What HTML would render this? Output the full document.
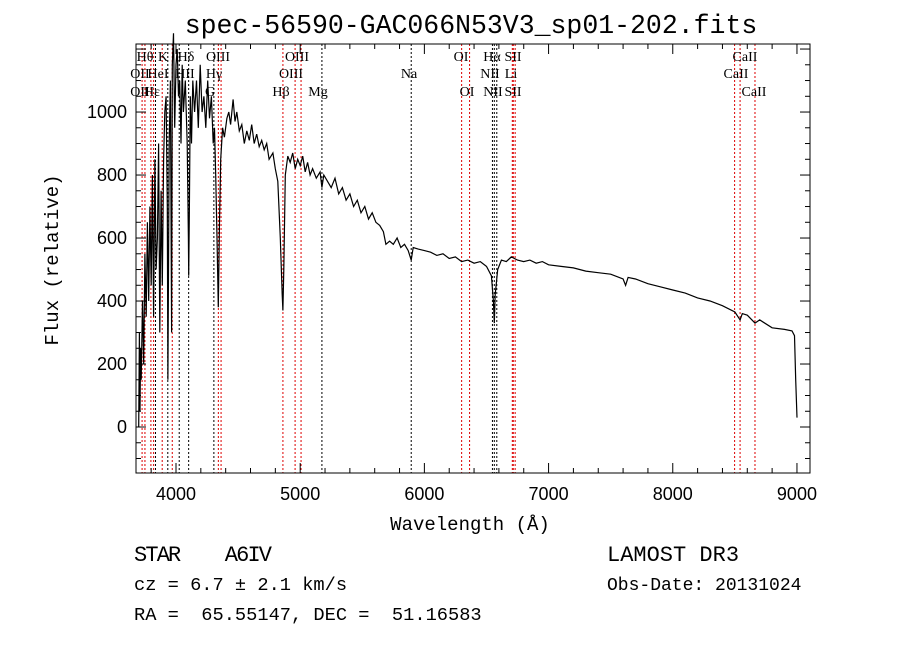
<!DOCTYPE html>
<html><head><meta charset="utf-8"><style>
html,body{margin:0;padding:0;background:#fff;}
svg{display:block;font-family:"Liberation Mono",monospace;}
.lbl{font-family:"Liberation Serif",serif;font-size:14px;fill:#000;}
.info{font-family:"Liberation Mono",monospace;fill:#000;white-space:pre;}
</style></head><body>
<svg id="chart" width="900" height="649" viewBox="0 0 900 649" xml:space="preserve">
<rect width="900" height="649" fill="#fff"/>
<text x="471" y="33" font-size="26.5" text-anchor="middle">spec-56590-GAC066N53V3_sp01-202.fits</text>
<g id="lines"></g>
<g id="labels"></g>
<g id="axes"></g>
<path id="spec" fill="none" stroke="#000" stroke-width="1.2"/>
<rect x="136" y="44" width="674" height="429" fill="none" stroke="#000" stroke-width="1"/>
<text x="470" y="530" font-size="19" text-anchor="middle">Wavelength (Å)</text>
<text transform="translate(58,260) rotate(-90)" font-size="19" text-anchor="middle">Flux (relative)</text>
<text class="info" x="134" y="561" font-size="22" textLength="138">STAR    A6IV</text>
<text class="info" x="134" y="590" font-size="18.7">cz = 6.7 ± 2.1 km/s</text>
<text class="info" x="134" y="620" font-size="18.7">RA =  65.55147, DEC =  51.16583</text>
<text class="info" x="607" y="561" font-size="22">LAMOST DR3</text>
<text class="info" x="607" y="590" font-size="18">Obs-Date: 20131024</text>
</svg>
<script>
const wave=[3700,3705,3710,3715,3720,3730,3740,3750,3760,3770,3780,3790,3800,3810,3820,3830,3840,3850,3860,3870,3880,3890,3900,3910,3920,3930,3935,3945,3955,3965,3970,3980,3990,4000,4010,4020,4030,4040,4050,4060,4075,4090,4100,4102,4108,4115,4125,4135,4150,4165,4180,4195,4210,4225,4240,4255,4270,4285,4300,4310,4320,4330,4341,4350,4360,4375,4390,4410,4425,4440,4460,4475,4490,4510,4530,4550,4570,4590,4610,4630,4650,4670,4690,4710,4730,4750,4780,4800,4820,4840,4855,4861,4868,4880,4900,4920,4940,4960,4980,5000,5020,5040,5060,5080,5100,5130,5160,5175,5190,5220,5250,5280,5310,5340,5370,5400,5430,5460,5490,5520,5550,5580,5610,5640,5670,5690,5720,5750,5780,5810,5840,5870,5894,5910,5950,6000,6050,6100,6150,6200,6250,6300,6350,6400,6450,6500,6540,6556,6563,6570,6590,6620,6660,6700,6750,6800,6850,6900,6950,7000,7100,7200,7300,7400,7500,7600,7620,7640,7700,7800,7900,8000,8100,8200,8300,8400,8500,8542,8560,8600,8662,8700,8800,8900,8960,8980,8990,9000];
const flux=[0,300,50,250,150,400,200,550,350,650,400,700,450,800,350,850,500,600,900,300,750,450,850,1000,1050,700,150,900,1100,300,1150,1250,950,1150,1200,1050,1100,900,1150,1000,1100,900,600,480,700,1050,900,1100,1000,1100,950,1150,1000,1050,950,1100,980,1050,900,950,800,600,380,650,850,950,920,980,1000,960,1040,970,1000,940,960,900,940,910,960,900,930,890,910,880,900,850,870,820,780,600,420,370,500,800,860,840,870,820,850,830,860,810,840,800,820,790,810,760,800,780,760,790,740,760,720,740,700,720,680,700,660,680,650,640,620,580,590,580,600,570,580,560,530,570,565,560,555,545,550,535,540,525,530,520,525,510,480,400,330,420,500,530,525,540,530,525,530,520,525,515,510,505,495,490,485,470,450,475,470,455,445,435,425,410,400,385,365,340,360,355,330,340,315,310,305,290,150,30];
const xTicks=[4000,5000,6000,7000,8000,9000];
const yTicks=[0,200,400,600,800,1000];
const lineWaves=[3727,3750,3798,3820,3835,3889,3934,3970,4026,4102,4305,4341,4363,4861,4959,5007,5175,5894,6300,6364,6548,6563,6583,6708,6716,6731,8498,8542,8662];
const lineRed=[1,1,1,1,0,1,0,1,0,0,0,1,1,1,1,1,0,0,1,1,0,0,0,1,1,1,1,1,1];
const labelText=["Hθ","K","Hδ","OIII","OIII","OI","Hα","SII","CaII","OII","HeI","HII","Hγ","OIII","Na","NII","Li","CaII","OII","Hε","G","Hβ","Mg","OI","NII","SII","CaII"];
const labelX=[145,163,186,218,297,461,492,513,745,140,158,185,214,291,409,490,511,736,140,152,210,281,318,467,493,513,754];
const labelY=[61,61,61,61,61,61,61,61,61,78,78,78,78,78,78,78,78,78,96,96,96,96,96,96,96,96,96];
const X0=136,X1=810,Y0=44,Y1=473,WMIN=3678,WMAX=9105,FMIN=-146,FMAX=1216;
const xs=w=>X0+(w-WMIN)/(WMAX-WMIN)*(X1-X0);
const ys=f=>Y1-(f-FMIN)/(FMAX-FMIN)*(Y1-Y0);
const NS="http://www.w3.org/2000/svg";
function mk(tag,attrs,parent){const e=document.createElementNS(NS,tag);for(const k in attrs)e.setAttribute(k,attrs[k]);parent.appendChild(e);return e;}
const L=document.getElementById('lines');
lineWaves.forEach((w,i)=>{
 const e=mk('line',{x1:xs(w),x2:xs(w),y1:Y0,y2:Y1,stroke:lineRed[i]?'#d00':'#000','stroke-width':1,'stroke-dasharray':'2,2'},L);
 
 
});
const LB=document.getElementById('labels');
labelText.forEach((t,i)=>{
 const e=mk('text',{x:labelX[i],y:labelY[i],'text-anchor':'middle',class:'lbl'},LB);
 e.textContent=t;
 
 
});
const A=document.getElementById('axes');
for(let w=3800;w<=9100;w+=200){const big=w%1000===0;
 mk('line',{x1:xs(w),x2:xs(w),y1:Y1,y2:Y1-(big?10:5),stroke:'#000'},A);
 mk('line',{x1:xs(w),x2:xs(w),y1:Y0,y2:Y0+(big?10:5),stroke:'#000'},A);}
for(let f=-100;f<=1200;f+=50){const big=f%200===0;
 mk('line',{x1:X0,x2:X0+(big?10:5),y1:ys(f),y2:ys(f),stroke:'#000'},A);
 mk('line',{x1:X1,x2:X1-(big?10:5),y1:ys(f),y2:ys(f),stroke:'#000'},A);}
xTicks.forEach(v=>{const e=mk('text',{x:xs(v),y:500,'text-anchor':'middle','font-size':18,'font-family':'Liberation Sans, sans-serif'},A);e.textContent=v;
 
 });
yTicks.forEach(v=>{const e=mk('text',{x:127,y:ys(v)+6,'text-anchor':'end','font-size':18,'font-family':'Liberation Sans, sans-serif'},A);e.textContent=v;
 
 });
let d='';wave.forEach((w,i)=>{d+=(i?'L':'M')+xs(w).toFixed(1)+','+ys(flux[i]).toFixed(1);});
document.getElementById('spec').setAttribute('d',d);
</script>
</body></html>
